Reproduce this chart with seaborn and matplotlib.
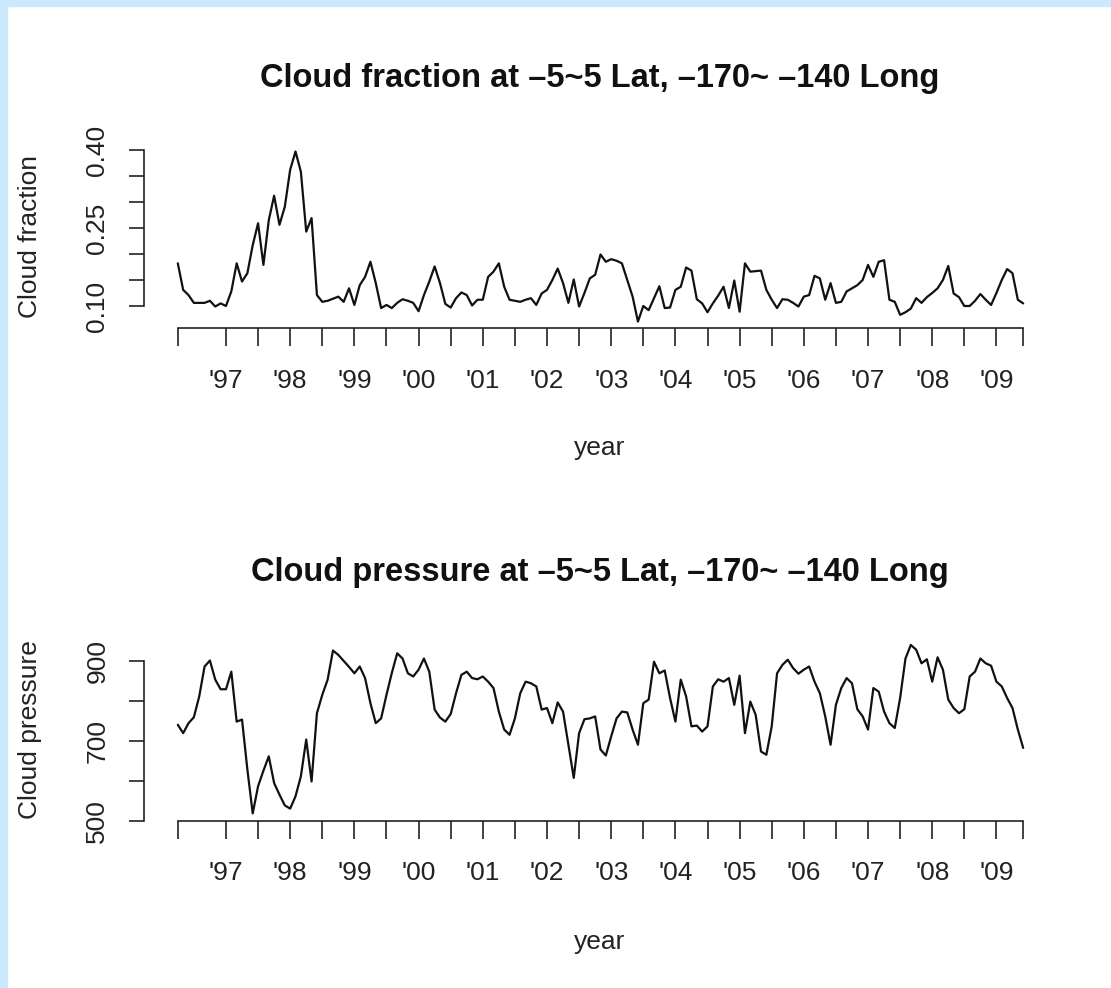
import numpy as np
import pandas as pd
import matplotlib
matplotlib.use("Agg")
import matplotlib.pyplot as plt
from matplotlib.patches import Rectangle
import seaborn as sns

# %% data: monthly means, Apr 1996 - Jun 2009
months = pd.date_range("1996-04-01", periods=159, freq="MS")

cloud_fraction = [
    0.182, 0.131, 0.121, 0.106, 0.106, 0.106, 0.110, 0.099, 0.105, 0.100,
    0.128, 0.182, 0.147, 0.163, 0.217, 0.259, 0.179, 0.265, 0.312, 0.256,
    0.291, 0.362, 0.397, 0.358, 0.243, 0.269, 0.121, 0.108, 0.110, 0.114,
    0.118, 0.108, 0.134, 0.102, 0.140, 0.156, 0.185, 0.144, 0.096, 0.102,
    0.096, 0.106, 0.113, 0.110, 0.106, 0.090, 0.121, 0.147, 0.176, 0.144,
    0.104, 0.097, 0.115, 0.126, 0.121, 0.101, 0.112, 0.112, 0.156, 0.166,
    0.182, 0.137, 0.112, 0.110, 0.108, 0.112, 0.115, 0.102, 0.124, 0.131,
    0.150, 0.172, 0.144, 0.106, 0.151, 0.099, 0.125, 0.153, 0.160, 0.199,
    0.185, 0.190, 0.187, 0.182, 0.150, 0.118, 0.070, 0.100, 0.092, 0.115,
    0.138, 0.096, 0.097, 0.131, 0.137, 0.174, 0.168, 0.113, 0.105, 0.088,
    0.105, 0.120, 0.137, 0.096, 0.149, 0.089, 0.182, 0.166, 0.167, 0.168,
    0.131, 0.112, 0.096, 0.113, 0.112, 0.106, 0.099, 0.118, 0.121, 0.158,
    0.153, 0.112, 0.144, 0.106, 0.108, 0.128, 0.134, 0.140, 0.150, 0.179,
    0.156, 0.185, 0.188, 0.112, 0.108, 0.083, 0.088, 0.095, 0.115, 0.106,
    0.117, 0.125, 0.134, 0.150, 0.177, 0.124, 0.117, 0.100, 0.100, 0.110,
    0.123, 0.112, 0.102, 0.125, 0.150, 0.171, 0.163, 0.112, 0.105,
]

cloud_pressure = [
    740, 719, 744, 759, 811, 886, 901, 853, 829, 829,
    873, 748, 753, 628, 518, 586, 625, 661, 594, 565,
    538, 530, 561, 611, 703, 598, 769, 815, 853, 926,
    915, 900, 885, 869, 886, 857, 794, 744, 756, 815,
    870, 919, 906, 869, 861, 878, 906, 873, 778, 758,
    748, 767, 819, 865, 873, 857, 854, 861, 848, 832,
    773, 728, 715, 756, 819, 848, 844, 836, 778, 782,
    744, 796, 773, 690, 607, 719, 754, 756, 761, 678,
    663, 711, 756, 773, 771, 728, 690, 794, 803, 898,
    869, 876, 807, 748, 853, 811, 736, 738, 723, 736,
    836, 854, 848, 857, 790, 863, 719, 798, 765, 673,
    665, 736, 869, 890, 903, 882, 868, 878, 886, 848,
    819, 761, 690, 790, 832, 857, 844, 779, 761, 728,
    832, 823, 773, 744, 732, 807, 906, 940, 928, 894,
    904, 848, 909, 878, 803, 782, 769, 779, 861, 873,
    906, 894, 888, 848, 836, 807, 782, 728, 682,
]

years = list(range(1997, 2010))
year_labels = ["'%02d" % (y % 100) for y in years]
frac_ticks = [0.10, 0.15, 0.20, 0.25, 0.30, 0.35, 0.40]
frac_labels = ["0.10", "", "", "0.25", "", "", "0.40"]
pres_ticks = [500, 600, 700, 800, 900]
pres_labels = ["500", "", "700", "", "900"]

df = pd.DataFrame({
    "t": months.year + (months.month - 1) / 12,
    "frac": cloud_fraction,
    "pres": cloud_pressure,
})

# %% plot
sns.set_theme(style="ticks")
plt.rcParams["font.family"] = ["Liberation Sans", "DejaVu Sans"]

W, H = 1111, 988
fig = plt.figure(figsize=(W / 100, H / 100), dpi=100)
fig.patch.set_facecolor("white")


def px_axes(left, top, right, bottom):
    return fig.add_axes([left / W, 1 - bottom / H, (right - left) / W, (bottom - top) / H])


ax1 = px_axes(144, 144.7, 1057, 328.4)
ax2 = px_axes(144, 638.2, 1057, 820.6)

# ticks every half year, labels on whole years, axis runs first to last month
t0, t1 = df.t.iloc[0], df.t.iloc[-1]
inner = [y + h for y in years for h in (0, 0.5) if y + h <= t1]
xticks = [t0] + inner + [t1]
xlabels = [""] + [year_labels[years.index(int(x))] if x == int(x) else "" for x in inner] + [""]

panels = [
    (ax1, "frac", frac_ticks, frac_labels, "Cloud fraction",
     "Cloud fraction at \u20135~5 Lat, \u2013170~ \u2013140 Long", 87, 455, 236.5),
    (ax2, "pres", pres_ticks, pres_labels, "Cloud pressure",
     "Cloud pressure at \u20135~5 Lat, \u2013170~ \u2013140 Long", 581, 949, 729.4),
]

for ax, col, yt, yl, ylab, title, title_y, xlab_y, ylab_y in panels:
    sns.lineplot(data=df, x="t", y=col, ax=ax, color="#111111",
                 linewidth=1.6, estimator=None, sort=False)
    ax.margins(x=0.04, y=0.04)
    ax.set_facecolor("white")
    ax.spines[["top", "right"]].set_visible(False)
    for s in ("bottom", "left"):
        ax.spines[s].set_linewidth(1.2)
        ax.spines[s].set_color("#222222")
    ax.spines["bottom"].set_bounds(t0, t1)
    ax.spines["left"].set_bounds(yt[0], yt[-1])
    ax.set_xticks(xticks)
    ax.set_xticklabels(xlabels)
    ax.set_yticks(yt)
    ax.set_yticklabels(yl)
    ax.tick_params(axis="x", length=13, width=1.2, pad=16, labelsize=19,
                   color="#222222", labelcolor="#222222", direction="out")
    ax.tick_params(axis="y", length=11, width=1.2, pad=14, labelsize=19,
                   color="#222222", labelcolor="#222222", direction="out")
    for lab in ax.get_yticklabels():
        lab.set_rotation(90)
        lab.set_va("center")
    ax.set_xlabel("")
    ax.set_ylabel("")
    fig.text(600 / W, 1 - title_y / H, title, ha="center", va="baseline",
             fontsize=23.5, fontweight="bold", color="#111111")
    fig.text(600 / W, 1 - xlab_y / H, "year", ha="center", va="baseline",
             fontsize=19, color="#222222")
    fig.text(37 / W, 1 - ylab_y / H, ylab, ha="center", va="baseline",
             rotation=90, rotation_mode="anchor", fontsize=19, color="#222222")

# light blue frame on left and top edge
fig.patches.append(Rectangle((0, 1 - 6 / H), 1, 6 / H, transform=fig.transFigure,
                             color="#cbe8fc", zorder=10))
fig.patches.append(Rectangle((0, 0), 7 / W, 1, transform=fig.transFigure,
                             color="#cbe8fc", zorder=10))

fig.savefig("out.png", dpi=100)
